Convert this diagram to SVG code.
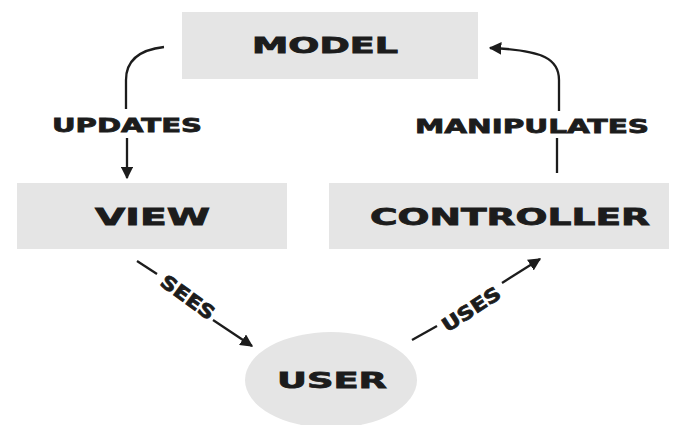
<svg xmlns="http://www.w3.org/2000/svg" width="684" height="425" viewBox="0 0 684 425">
<style>
.box{fill:#e5e5e5}
.lbl{font-family:"DejaVu Sans",Verdana,sans-serif;font-weight:bold;fill:#1c1c1c;stroke:#1c1c1c;stroke-width:0.8}
.ln{fill:none;stroke:#1c1c1c;stroke-width:2.3}
</style>
<defs>
<marker id="ah" viewBox="0 0 10 10" refX="9" refY="5" markerWidth="5.5" markerHeight="5.5" orient="auto" markerUnits="strokeWidth">
<path d="M0,0 L10,5 L0,10 z" fill="#1c1c1c"/>
</marker>
</defs>
<rect width="684" height="425" fill="#ffffff"/>
<g id="model">
<rect class="box" x="182" y="12" width="296" height="67"/>
<text class="lbl" x="252" y="53" font-size="21" textLength="146" lengthAdjust="spacingAndGlyphs">MODEL</text>
</g>
<g id="view">
<rect class="box" x="17" y="183" width="270" height="66"/>
<text class="lbl" x="95" y="225" font-size="23" textLength="115" lengthAdjust="spacingAndGlyphs">VIEW</text>
</g>
<g id="controller">
<rect class="box" x="329" y="183" width="340" height="66"/>
<text class="lbl" x="370" y="225" font-size="23" textLength="280" lengthAdjust="spacingAndGlyphs">CONTROLLER</text>
</g>
<g id="user">
<ellipse class="box" cx="331" cy="380" rx="86" ry="48"/>
<text class="lbl" x="277" y="388" font-size="22" textLength="110" lengthAdjust="spacingAndGlyphs">USER</text>
</g>
<g id="connectors">
<path class="ln" d="M164,47 C138,50 126,62 126,80 L126,109"/>
<path class="ln" d="M127,138 L127,178" marker-end="url(#ah)"/>
<text class="lbl" x="52" y="132" font-size="19" textLength="150" lengthAdjust="spacingAndGlyphs">UPDATES</text>
<path class="ln" d="M557,173 L557,138"/>
<path class="ln" d="M559,111 L559,80 C559,60 545,50 490,48" marker-end="url(#ah)"/>
<text class="lbl" x="415" y="133" font-size="19" textLength="234" lengthAdjust="spacingAndGlyphs">MANIPULATES</text>
<path class="ln" d="M137,261 L157,274"/>
<path class="ln" d="M213,320 L252,346" marker-end="url(#ah)"/>
<text class="lbl" font-size="19" text-anchor="middle" transform="translate(188,297) rotate(36)" y="7" x="0" textLength="62" lengthAdjust="spacingAndGlyphs">SEES</text>
<path class="ln" d="M412,340 L437,326"/>
<path class="ln" d="M502,283 L540,259" marker-end="url(#ah)"/>
<text class="lbl" font-size="19" text-anchor="middle" transform="translate(471,309) rotate(-33)" y="7" x="0" textLength="66" lengthAdjust="spacingAndGlyphs">USES</text>
</g>
</svg>
